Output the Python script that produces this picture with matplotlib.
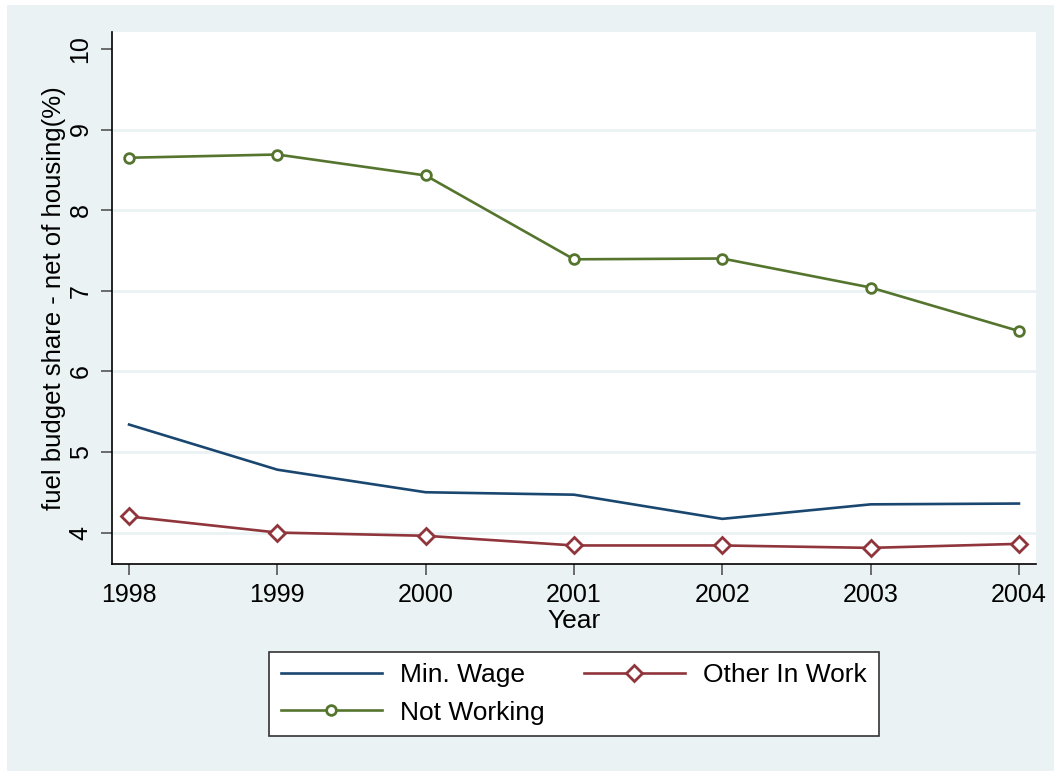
import matplotlib.pyplot as plt
from matplotlib.patches import Rectangle

plt.rcParams['font.family'] = ['Liberation Sans', 'DejaVu Sans']

years = [1998, 1999, 2000, 2001, 2002, 2003, 2004]
min_wage = [5.34, 4.78, 4.50, 4.47, 4.17, 4.35, 4.36]
other_in_work = [4.20, 4.00, 3.96, 3.84, 3.84, 3.81, 3.86]
not_working = [8.65, 8.69, 8.43, 7.39, 7.40, 7.04, 6.50]
y_ticks = [4, 5, 6, 7, 8, 9, 10]

bg = '#eaf2f3'
navy = '#1a476f'
maroon = '#90353b'
green = '#55752f'

fig = plt.figure(figsize=(10.54, 7.71), dpi=100)
fig.patch.set_facecolor('white')
fig.patches.append(Rectangle((7 / 1054, 0), 1, 1 - 5 / 771, transform=fig.transFigure,
                             facecolor=bg, edgecolor='none', zorder=-10))

ax = fig.add_axes([112 / 1054, 207 / 771, 924 / 1054, 532 / 771])
ax.set_facecolor('white')

l1, = ax.plot(years, min_wage, color=navy, lw=1.9, label='Min. Wage')
l2, = ax.plot(years, other_in_work, color=maroon, lw=1.9, marker='D', markersize=8,
              markerfacecolor='white', markeredgewidth=2, label='Other In Work')
l3, = ax.plot(years, not_working, color=green, lw=1.9, marker='o', markersize=7,
              markerfacecolor='white', markeredgewidth=2, label='Not Working')

ax.set_xlim(1997.885, 2004.115)
ax.set_ylim(3.61, 10.21)
ax.set_xticks(years)
ax.set_yticks(y_ticks)
ax.set_yticklabels([str(v) for v in y_ticks], rotation=90, va='center')

# light horizontal grid, none at the top tick
for v in y_ticks[:-1]:
    ax.axhline(v, color=bg, lw=2, zorder=0)

for s in ['top', 'right']:
    ax.spines[s].set_visible(False)
for s in ['left', 'bottom']:
    ax.spines[s].set_color('black')
    ax.spines[s].set_linewidth(1.2)

ax.tick_params(axis='both', length=8, width=1.2, color='#555555', labelsize=18, pad=6)
ax.set_xlabel('Year', fontsize=19, labelpad=1)
ax.set_ylabel('fuel budget share - net of housing(%)', fontsize=18.5, labelpad=2)

leg = fig.legend([l1, l3, l2], ['Min. Wage', 'Not Working', 'Other In Work'],
                 ncol=2, loc='center', bbox_to_anchor=(574 / 1054, 1 - 694 / 771),
                 fontsize=19, frameon=True, fancybox=False, handlelength=3.8,
                 handletextpad=0.7, columnspacing=1.5, borderpad=0.45, labelspacing=0.5,
                 borderaxespad=0)
leg.get_frame().set_edgecolor('#333333')
leg.get_frame().set_linewidth(1.2)
leg.get_frame().set_facecolor('white')
leg.get_frame().set_alpha(1)

fig.savefig('out.png', dpi=100, facecolor=fig.get_facecolor())
